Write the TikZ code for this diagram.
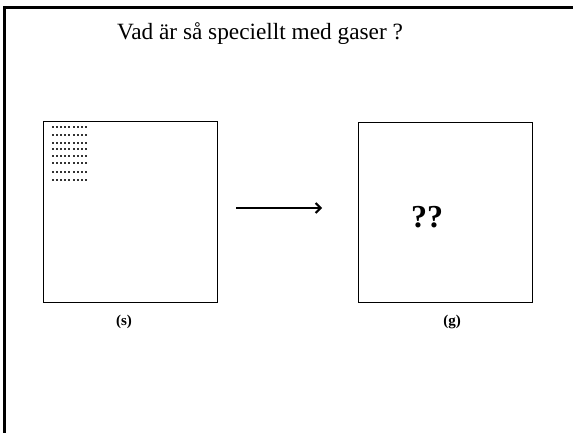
\documentclass[tikz,border=0pt]{standalone}
\usepackage{fontspec}
\setmainfont{Liberation Serif}
\usetikzlibrary{arrows.meta}
\begin{document}
\begin{tikzpicture}[x=1pt,y=-1pt,
  frame/.style={line width=3pt,line cap=rect},
  boxstyle/.style={draw,line width=1pt,minimum width=174pt,minimum height=180pt,inner sep=0pt},
  dotstyle/.style={fill=black!80,minimum size=2pt,inner sep=0pt},
  lbl/.style={font=\bfseries\fontsize{15}{17}\selectfont}]
\useasboundingbox (0,0) rectangle (573,433);
\fill[white] (0,0) rectangle (573,433);
\coordinate (tl) at (4.5,7.5);
\coordinate (tr) at (575,7.5);
\coordinate (bl) at (4.5,435);
\draw[frame] (bl) -- (tl) -- (tr);
\node (title) at (260,34) {\fontsize{23.3}{27}\selectfont Vad är så speciellt med gaser ?};
\node[boxstyle] (s) at (130,212) {};
\node[boxstyle] (g) at (445,212.5) {};
\foreach \r/\yy in {1/127,2/135,3/143,4/149.5,5/156,6/163.5,7/172,8/180}{
  \foreach \c in {0,...,8}{
    \node[dotstyle] (d\r-\c) at ({52.5+\c*4.2},\yy) {};
  }
}
\node (q) at (427,217) {\bfseries\fontsize{32}{36}\selectfont ??};
\node[lbl] (ls) at (124,322) {(s)};
\node[lbl] (lg) at (452,322) {(g)};
\coordinate (a1) at (236,208);
\coordinate (a2) at (322,208);
\draw[line width=2pt,-{Straight Barb[length=5pt,width=10pt]}] (a1) -- (a2);
\end{tikzpicture}
\end{document}
